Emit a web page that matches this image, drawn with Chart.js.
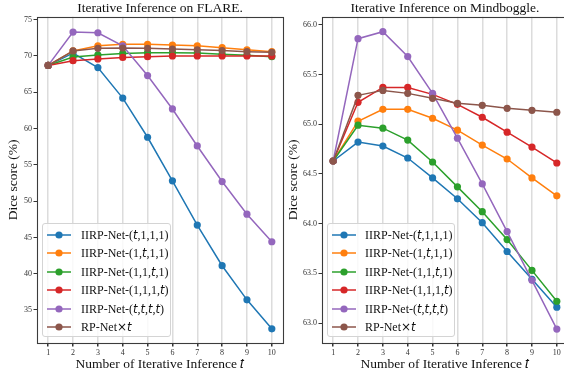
<!DOCTYPE html>
<html><head><meta charset="utf-8">
<script src="https://cdn.jsdelivr.net/npm/chart.js@4.4.0/dist/chart.umd.min.js"></script>
<style>
html,body{margin:0;padding:0;overflow:hidden;background:#fff;width:564px;height:374px;position:relative;}
canvas{position:absolute;top:0;}
#c1{left:0;}
#c2{left:282px;}
.lg{position:absolute;border:1px solid #d4d4d4;border-radius:3px;background:rgba(255,255,255,0.82);box-sizing:border-box;font-family:"Liberation Serif","Times New Roman",serif;font-size:12px;color:#111;}
.row{position:absolute;left:0;width:100%;height:18px;line-height:18px;white-space:nowrap;}
.row svg{position:absolute;left:4px;top:0;}
.row span{position:absolute;}
i.m{font-family:"DejaVu Sans",sans-serif;font-style:italic;font-size:11.5px;}
b.x{font-family:"DejaVu Sans",sans-serif;font-weight:normal;font-size:12px;}
</style></head><body>
<canvas id="c1" width="290" height="374"></canvas>
<canvas id="c2" width="292" height="374"></canvas>
<div id="lg1" class="lg" style="left:42px;top:223px;width:129px;height:114px"></div>
<div id="lg2" class="lg" style="left:327px;top:223px;width:128px;height:114px"></div>
<script>
const iterations = [1, 2, 3, 4, 5, 6, 7, 8, 9, 10];
const seriesNames = ["IIRP-Net-(𝑡,1,1,1)", "IIRP-Net-(1,𝑡,1,1)", "IIRP-Net-(1,1,𝑡,1)", "IIRP-Net-(1,1,1,𝑡)", "IIRP-Net-(𝑡,𝑡,𝑡,𝑡)", "RP-Net×𝑡"];
const seriesColors = ['#1f77b4', '#ff7f0e', '#2ca02c', '#d62728', '#9467bd', '#8c564b'];

const flareT111 = [68.7, 70.4, 68.4, 64.2, 58.8, 52.8, 46.7, 41.1, 36.4, 32.4];
const flare1T11 = [68.7, 70.7, 71.4, 71.6, 71.6, 71.5, 71.4, 71.15, 70.85, 70.6];
const flare11T1 = [68.7, 69.85, 70.15, 70.35, 70.45, 70.45, 70.4, 70.25, 70.1, 69.9];
const flare111T = [68.7, 69.35, 69.6, 69.8, 69.9, 70.0, 70.0, 70.0, 70.0, 70.0];
const flareTTTT = [68.7, 73.3, 73.2, 71.4, 67.3, 62.7, 57.6, 52.7, 48.2, 44.4];
const flareRP   = [68.7, 70.7, 71.05, 71.1, 71.05, 70.95, 70.85, 70.75, 70.6, 70.5];

const mindT111 = [64.63, 64.82, 64.78, 64.66, 64.46, 64.25, 64.01, 63.72, 63.44, 63.16];
const mind1T11 = [64.63, 65.03, 65.15, 65.15, 65.06, 64.94, 64.79, 64.65, 64.46, 64.28];
const mind11T1 = [64.63, 64.99, 64.96, 64.84, 64.62, 64.37, 64.12, 63.84, 63.53, 63.22];
const mind111T = [64.63, 65.22, 65.37, 65.37, 65.30, 65.20, 65.07, 64.92, 64.77, 64.61];
const mindTTTT = [64.63, 65.86, 65.93, 65.68, 65.31, 64.86, 64.40, 63.92, 63.43, 62.94];
const mindRP   = [64.63, 65.29, 65.34, 65.31, 65.26, 65.21, 65.19, 65.16, 65.14, 65.12];

const flareTicks = [35, 40, 45, 50, 55, 60, 65, 70, 75];
const mindTicks = [63.0, 63.5, 64.0, 64.5, 65.0, 65.5, 66.0];

const boxPlugin = {
  id: 'box',
  afterDraw(chart) {
    const {ctx, chartArea: a} = chart;
    ctx.save();
    ctx.strokeStyle = '#3c3c3c';
    ctx.lineWidth = 1.1;
    ctx.strokeRect(Math.round(a.left) + 0.5, Math.round(a.top) + 0.5, Math.round(a.right - a.left), Math.round(a.bottom - a.top));
    ctx.restore();
  }
};

const serif = '"Liberation Serif", "Times New Roman", serif';

function makeChart(id, series, ticks, yMin, yMax, title, yAxisWidth, yTitlePad, padRight, fmt) {
  return new Chart(document.getElementById(id), {
    type: 'line',
    data: {
      datasets: series.map((d, i) => ({
        label: seriesNames[i],
        data: iterations.map((x, j) => ({x: x, y: d[j]})),
        borderColor: seriesColors[i],
        backgroundColor: seriesColors[i],
        pointBackgroundColor: seriesColors[i],
        pointBorderWidth: 0,
        pointRadius: 3.6,
        borderWidth: 1.5,
        tension: 0,
        order: series.length - i
      }))
    },
    options: {
      responsive: false, animation: false, devicePixelRatio: 1,
      layout: {padding: {left: 0, right: padRight, top: 0, bottom: 0}},
      plugins: {
        legend: {display: false},
        tooltip: {enabled: false},
        title: {display: true, fullSize: false, text: title, color: '#111',
          font: {family: serif, size: 13.5, weight: 'normal', lineHeight: 1.244},
          padding: {top: 0, bottom: 0}}
      },
      scales: {
        x: {
          type: 'linear', min: 0.55, max: 10.45,
          afterBuildTicks(s) { s.ticks = iterations.map(v => ({value: v})); },
          afterFit(s) { s.height = 31; },
          grid: {color: '#dcdcdc', lineWidth: 1.5, tickColor: '#333', tickLength: 3.5},
          border: {display: false},
          ticks: {font: {family: serif, size: 8}, color: '#333', padding: 2, maxRotation: 0, autoSkip: false},
          title: {display: true, text: 'Number of Iterative Inference 𝑡', color: '#111',
            font: {family: serif, size: 13.5, lineHeight: 1.2}, padding: {top: 0, bottom: 1.3}}
        },
        y: {
          min: yMin, max: yMax,
          afterBuildTicks(s) { s.ticks = ticks.map(v => ({value: v})); },
          afterFit(s) { s.width = yAxisWidth; },
          grid: {drawOnChartArea: false, tickColor: '#333', tickLength: 3.5},
          border: {display: false},
          ticks: {font: {family: serif, size: 8}, color: '#333', padding: 1.5, autoSkip: false, callback: fmt},
          title: {display: true, text: 'Dice score (%)', color: '#111',
            font: {family: serif, size: 13.5, lineHeight: 1.2}, padding: {top: yTitlePad, bottom: 0}}
        }
      }
    },
    plugins: [boxPlugin]
  });
}

function buildLegend(chart, el, textLeft) {
  chart.data.datasets.forEach((ds, i) => {
    const row = document.createElement('div');
    row.className = 'row';
    row.style.top = (1.7 + i * 18.5) + 'px';
    const svg = '<svg width="26" height="18"><line x1="0" y1="9" x2="24" y2="9" stroke="' + ds.borderColor +
      '" stroke-width="1.5"/><circle cx="12" cy="9" r="3.6" fill="' + ds.borderColor + '"/></svg>';
    const txt = ds.label.replace(/𝑡/g, '<i class="m">t</i>').replace(/×/g, '<b class="x">×</b>');
    row.innerHTML = svg + '<span style="left:' + textLeft + 'px">' + txt + '</span>';
    el.appendChild(row);
  });
}

const c1 = makeChart('c1', [flareT111, flare1T11, flare11T1, flare111T, flareTTTT, flareRP],
  flareTicks, 30.45, 75.4, 'Iterative Inference on FLARE.', 37, 5, 7, v => String(v));
const c2 = makeChart('c2', [mindT111, mind1T11, mind11T1, mind111T, mindTTTT, mindRP],
  mindTicks, 62.8, 66.08, 'Iterative Inference on Mindboggle.', 40, 2.9, 6, v => Number(v).toFixed(1));
buildLegend(c1, document.getElementById('lg1'), 38);
buildLegend(c2, document.getElementById('lg2'), 37);
</script>
</body></html>
